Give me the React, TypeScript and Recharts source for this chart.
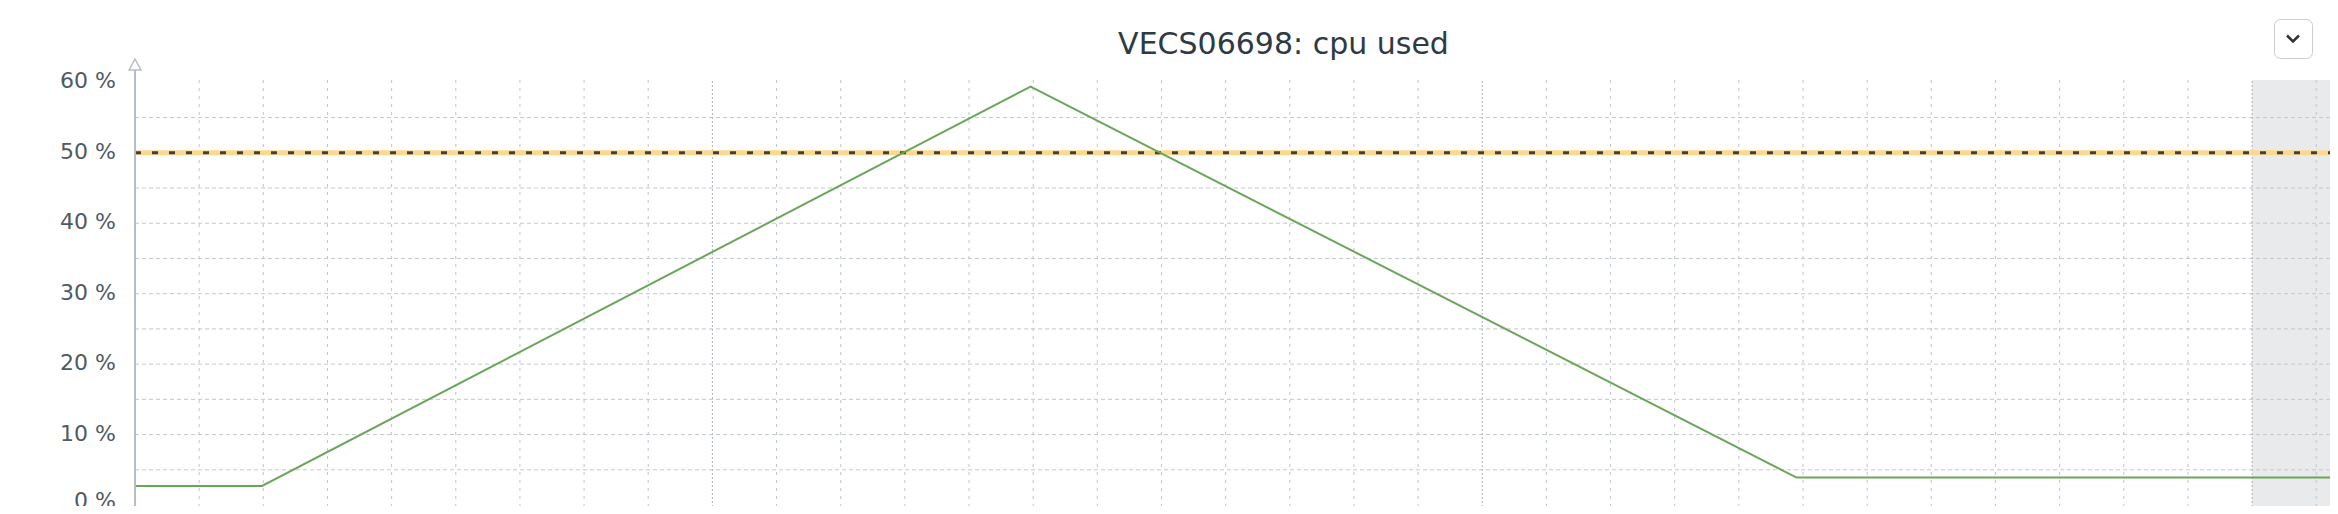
import React from 'react';
import {
  LineChart,
  Line,
  XAxis,
  YAxis,
  ReferenceLine,
  ReferenceArea,
} from 'recharts';

// minutes from the left edge of the window
const times = [0, 9.9, 69.8, 129.5, 171.15];
const cpuUsed = [2.7, 2.7, 59.4, 3.9, 3.9];

const threshold = 50;
const yTicks = [0, 10, 20, 30, 40, 50, 60];
const minorY = [5, 10, 15, 20, 25, 30, 35, 40, 45, 55];
const gridStep = 5; // minutes between vertical grid lines
const majorEvery = 12;
const firstMajor = 45;
const shadeFrom = 165;

const W = 2338;
const H = 514;
const axisColor = '#b3bec8';
const lineColor = '#6aa65a';

const data = times.map((t, i) => ({ t, cpu: cpuUsed[i] }));
const xMax = times[times.length - 1];

const verticals: number[] = [];
for (let v = gridStep; v < xMax; v += gridStep) verticals.push(v);

const isMajor = (v: number) => v >= firstMajor && (v - firstMajor) % (gridStep * majorEvery) === 0;

const YTick = (props: any) => {
  const { x, y, payload } = props;
  // bottom label sits on the page edge, lift it a touch so it isn't clipped
  const dy = payload.value === 0 ? 3 : 6;
  return (
    <text x={x} y={y} dy={dy} textAnchor="end" fontSize={22} fill="#505a62" fontFamily="DejaVu Sans">
      {`${payload.value} %`}
    </text>
  );
};

const App: React.FC = () => {
  return (
    <div style={{ position: 'relative', margin: -8, width: W, height: H, overflow: 'hidden', background: '#fff', fontFamily: 'DejaVu Sans' }}>
      {/* widget frame */}
      <div style={{ position: 'absolute', left: 0, top: 0, width: W, height: 3, background: '#eef0f1' }} />
      <div style={{ position: 'absolute', left: 0, top: 3, width: W, height: 1, background: '#d9dde0' }} />
      <div style={{ position: 'absolute', left: 2332, top: 3, width: 1, height: H, background: '#d9dde0' }} />
      <div style={{ position: 'absolute', left: 2333, top: 4, width: 5, height: H, background: '#f5f6f6' }} />

      <div style={{ position: 'absolute', left: 0, top: 0 }}>
        <LineChart width={2332} height={H} data={data} margin={{ top: 80, right: 1, left: 0, bottom: 0 }}>
          <ReferenceArea x1={shadeFrom} x2={xMax} y1={-0.28} y2={60.33} fill="#e9eaeb" fillOpacity={1} stroke="none" />
          {minorY.map((v) => (
            <ReferenceLine key={`h${v}`} y={v} stroke="#c3c8cd" strokeWidth={1} strokeDasharray="4 3" />
          ))}
          {verticals.map((v) => (
            <ReferenceLine
              key={`v${v}`}
              x={v}
              stroke={isMajor(v) ? '#a9b2bd' : '#bcc5d0'}
              strokeWidth={1}
              strokeDasharray={isMajor(v) ? '2 2' : '3 5'}
            />
          ))}
          <ReferenceLine y={threshold} stroke="#fcd88c" strokeWidth={5} />
          <ReferenceLine y={threshold} stroke="#3c3f44" strokeWidth={3} strokeDasharray="6 11" />
          <XAxis
            dataKey="t"
            type="number"
            domain={[0, xMax]}
            height={7}
            tick={false}
            tickLine={false}
            axisLine={{ stroke: axisColor, strokeWidth: 2 }}
          />
          <YAxis
            type="number"
            domain={[-0.28, 60.33]}
            ticks={yTicks}
            interval={0}
            width={135}
            tickLine={false}
            tickSize={0}
            tickMargin={19}
            tick={<YTick />}
            axisLine={{ stroke: axisColor, strokeWidth: 2 }}
            allowDataOverflow
          />
          <Line
            type="linear"
            dataKey="cpu"
            stroke={lineColor}
            strokeWidth={2}
            dot={false}
            isAnimationActive={false}
          />
        </LineChart>
      </div>

      {/* axis arrow, zero tick, title and menu button */}
      <svg width={W} height={H} style={{ position: 'absolute', left: 0, top: 0, pointerEvents: 'none' }}>
        <line x1={135} y1={62} x2={135} y2={81} stroke={axisColor} strokeWidth={2} />
        <path d="M129,70 L135,59 L141,70 Z" fill="#fff" stroke={axisColor} strokeWidth={1.5} />
        <line x1={129} y1={507} x2={135} y2={507} stroke={axisColor} strokeWidth={2} />
        <text x={1283.5} y={54} textAnchor="middle" fontSize={30} fill="#2e3a44" fontFamily="DejaVu Sans">
          VECS06698: cpu used
        </text>
        <rect x={2274.5} y={19.5} width={38} height={39} rx={6} fill="#fff" stroke="#c9ced3" />
        <path d="M2287,35.5 L2293,41.5 L2299,35.5" fill="none" stroke="#333" strokeWidth={2.5} />
      </svg>
    </div>
  );
};

export default App;
